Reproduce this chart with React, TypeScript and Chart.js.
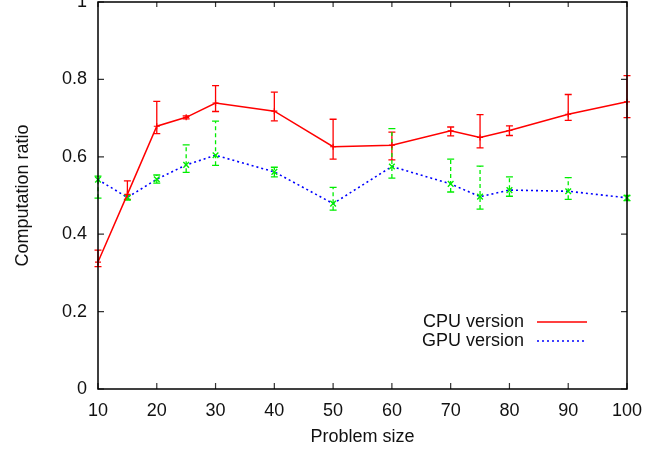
import React, { useEffect, useRef } from 'react';
import { Chart, registerables } from 'chart.js';

Chart.register(...registerables);

const problemSizes = [10, 15, 20, 25, 30, 40, 50, 60, 70, 75, 80, 90, 100];

const cpuRatio = [0.328, 0.503, 0.679, 0.702, 0.739, 0.718, 0.626, 0.63, 0.667, 0.65, 0.668, 0.71, 0.742];
const cpuLow = [0.316, 0.49, 0.66, 0.698, 0.717, 0.693, 0.594, 0.592, 0.654, 0.623, 0.655, 0.694, 0.701];
const cpuHigh = [0.359, 0.538, 0.743, 0.706, 0.784, 0.767, 0.697, 0.664, 0.677, 0.709, 0.68, 0.761, 0.81];

const gpuRatio = [0.541, 0.495, 0.542, 0.579, 0.604, 0.561, 0.479, 0.575, 0.53, 0.497, 0.514, 0.511, 0.494];
const gpuLow = [0.493, 0.488, 0.532, 0.56, 0.578, 0.548, 0.462, 0.545, 0.509, 0.465, 0.498, 0.49, 0.487];
const gpuHigh = [0.55, 0.5, 0.553, 0.631, 0.692, 0.573, 0.521, 0.673, 0.594, 0.576, 0.548, 0.546, 0.5];

const xTicks = [10, 20, 30, 40, 50, 60, 70, 80, 90, 100];
const yTicks = [0, 0.2, 0.4, 0.6, 0.8, 1];

const seriesLabels = ['CPU version', 'GPU version'];
const xTitle = 'Problem size';
const yTitle = 'Computation ratio';

const FONT = '"Liberation Sans", Arial, Helvetica, sans-serif';
const FONT_SIZE = 18;
const RED = '#ff0000';
const BLUE = '#0000ff';
const GREEN = '#00ee00';

const errorBars = [
  { low: cpuLow, high: cpuHigh, color: RED, dash: [] as number[] },
  { low: gpuLow, high: gpuHigh, color: GREEN, dash: [4, 3] },
];

const errorBarPlugin = {
  id: 'errorBars',
  beforeDatasetsDraw(chart: any) {
    const ctx = chart.ctx;
    const xs = chart.scales.x;
    const ys = chart.scales.y;
    ctx.save();
    errorBars.forEach((eb) => {
      ctx.strokeStyle = eb.color;
      ctx.lineWidth = 1.3;
      problemSizes.forEach((px, i) => {
        const x = xs.getPixelForValue(px);
        const y1 = ys.getPixelForValue(eb.low[i]);
        const y2 = ys.getPixelForValue(eb.high[i]);
        ctx.setLineDash(eb.dash);
        ctx.beginPath();
        ctx.moveTo(x, y1);
        ctx.lineTo(x, y2);
        ctx.stroke();
        ctx.setLineDash([]);
        ctx.beginPath();
        ctx.moveTo(x - 3.5, y1);
        ctx.lineTo(x + 3.5, y1);
        ctx.moveTo(x - 3.5, y2);
        ctx.lineTo(x + 3.5, y2);
        ctx.stroke();
      });
    });
    ctx.restore();
  },
};

const frameLegendPlugin = {
  id: 'frameLegend',
  afterDraw(chart: any) {
    const ctx = chart.ctx;
    const { left, right, top, bottom } = chart.chartArea;
    const xs = chart.scales.x;
    const ys = chart.scales.y;
    ctx.save();
    // inward ticks (mirrored)
    ctx.strokeStyle = '#333333';
    ctx.lineWidth = 1.2;
    ctx.beginPath();
    xTicks.forEach((v) => {
      const x = xs.getPixelForValue(v);
      ctx.moveTo(x, bottom);
      ctx.lineTo(x, bottom - 6);
      ctx.moveTo(x, top);
      ctx.lineTo(x, top + 5);
    });
    yTicks.forEach((v) => {
      const y = ys.getPixelForValue(v);
      ctx.moveTo(left, y);
      ctx.lineTo(left + 6, y);
      ctx.moveTo(right, y);
      ctx.lineTo(right - 6, y);
    });
    ctx.stroke();
    // frame
    ctx.strokeStyle = '#000000';
    ctx.lineWidth = 1.5;
    ctx.strokeRect(left, top, right - left, bottom - top);

    // legend
    ctx.font = `${FONT_SIZE}px ${FONT}`;
    ctx.fillStyle = '#111111';
    ctx.textAlign = 'right';
    ctx.textBaseline = 'middle';
    const textRight = right - 103;
    const lineStart = right - 90;
    const lineEnd = right - 40;
    const y0 = ys.getPixelForValue(0) - 67;
    const rowH = 19;
    seriesLabels.forEach((label, i) => {
      const y = y0 + i * rowH;
      ctx.fillText(label, textRight, y);
      ctx.beginPath();
      ctx.lineWidth = 1.5;
      if (i === 0) {
        ctx.strokeStyle = RED;
        ctx.setLineDash([]);
      } else {
        ctx.strokeStyle = BLUE;
        ctx.setLineDash([2, 3]);
      }
      ctx.moveTo(lineStart, y);
      ctx.lineTo(lineEnd, y);
      ctx.stroke();
      ctx.setLineDash([]);
    });
    ctx.restore();
  },
};

export default function App() {
  const canvasRef = useRef<HTMLCanvasElement | null>(null);

  useEffect(() => {
    if (!canvasRef.current) return;
    const chart = new Chart(canvasRef.current, {
      type: 'line',
      data: {
        datasets: [
          {
            label: seriesLabels[0],
            data: problemSizes.map((x, i) => ({ x, y: cpuRatio[i] })),
            borderColor: RED,
            borderWidth: 1.5,
            pointStyle: 'cross',
            pointRadius: 3,
            pointBorderColor: RED,
            pointBorderWidth: 1.2,
            tension: 0,
            fill: false,
            clip: false as any,
          },
          {
            label: seriesLabels[1],
            data: problemSizes.map((x, i) => ({ x, y: gpuRatio[i] })),
            borderColor: BLUE,
            borderWidth: 1.6,
            borderDash: [2, 3],
            pointStyle: 'crossRot',
            pointRadius: 4,
            pointBorderColor: GREEN,
            pointBorderWidth: 1.4,
            tension: 0,
            fill: false,
            clip: false as any,
          },
        ],
      },
      options: {
        animation: false,
        responsive: false,
        maintainAspectRatio: false,
        devicePixelRatio: 1,
        layout: { padding: { top: 22, right: 20, left: 0, bottom: 0 } },
        plugins: {
          legend: { display: false },
          tooltip: { enabled: false },
        },
        scales: {
          x: {
            type: 'linear',
            min: 10,
            max: 100,
            afterBuildTicks: (s: any) => {
              s.ticks = xTicks.map((v) => ({ value: v }));
            },
            afterFit: (s: any) => {
              s.height = 63;
              s.paddingLeft = 0;
              s.paddingRight = 0;
            },
            grid: { display: false, drawTicks: false },
            border: { display: false },
            ticks: {
              padding: 11,
              color: '#111111',
              font: { family: FONT, size: FONT_SIZE },
              maxRotation: 0,
              autoSkip: false,
              callback: (v: any) => String(v),
            },
            title: {
              display: true,
              text: xTitle,
              color: '#111111',
              font: { family: FONT, size: FONT_SIZE },
              padding: { top: 4, bottom: 4 },
            },
          },
          y: {
            type: 'linear',
            min: 0,
            max: 1,
            afterBuildTicks: (s: any) => {
              s.ticks = yTicks.map((v) => ({ value: v }));
            },
            afterFit: (s: any) => {
              s.width = 98;
              s.paddingTop = 0;
              s.paddingBottom = 0;
            },
            grid: { display: false, drawTicks: false },
            border: { display: false },
            ticks: {
              padding: 11,
              color: '#111111',
              font: { family: FONT, size: FONT_SIZE },
              autoSkip: false,
              callback: (v: any) => String(v),
            },
            title: {
              display: true,
              text: yTitle,
              color: '#111111',
              font: { family: FONT, size: FONT_SIZE },
              padding: { top: 12, bottom: 12 },
            },
          },
        },
      },
      plugins: [errorBarPlugin, frameLegendPlugin],
    });
    return () => chart.destroy();
  }, []);

  return (
    <div style={{ position: 'absolute', left: 0, top: 0, width: 647, height: 452, overflow: 'hidden' }}>
      <div style={{ position: 'absolute', left: 0, top: -20, width: 647, height: 472 }}>
        <canvas ref={canvasRef} width={647} height={472} style={{ width: 647, height: 472, display: 'block' }} />
      </div>
    </div>
  );
}
